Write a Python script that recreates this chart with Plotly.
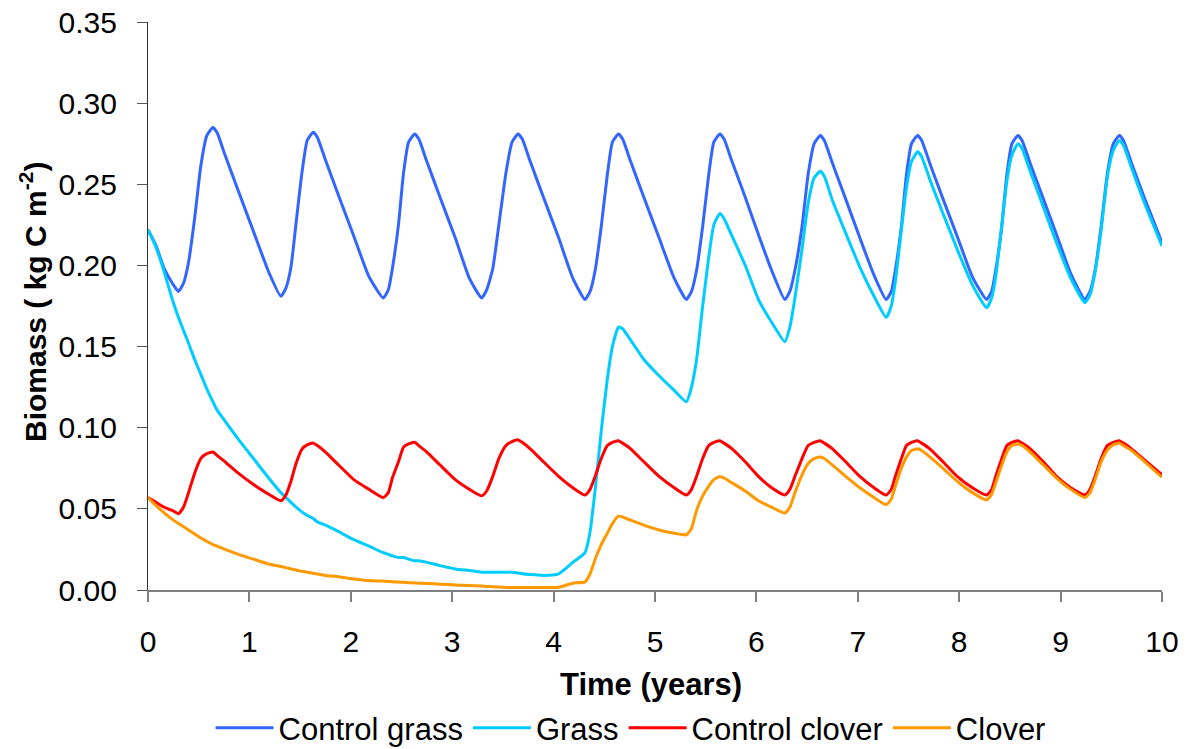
import plotly.graph_objects as go

# Time (years)
time = [
    0.00, 0.08, 0.16, 0.24, 0.30, 0.35, 0.40, 0.46, 0.52, 0.58, 0.64, 0.68, 0.76, 0.89, 1.04, 1.19,
    1.31, 1.36, 1.41, 1.46, 1.52, 1.57, 1.63, 1.67, 1.75, 1.88, 2.03, 2.18,
    2.32, 2.37, 2.41, 2.47, 2.52, 2.57, 2.63, 2.67, 2.75, 2.88, 3.03, 3.17,
    3.29, 3.34, 3.40, 3.46, 3.53, 3.59, 3.65, 3.69, 3.77, 3.90, 4.05, 4.19,
    4.31, 4.36, 4.41, 4.47, 4.53, 4.58, 4.64, 4.68, 4.76, 4.89, 5.04, 5.19,
    5.31, 5.36, 5.41, 5.47, 5.53, 5.58, 5.64, 5.68, 5.76, 5.89, 6.02, 6.15,
    6.28, 6.33, 6.38, 6.45, 6.51, 6.57, 6.63, 6.67, 6.75, 6.88, 7.02, 7.16,
    7.28, 7.33, 7.37, 7.43, 7.48, 7.53, 7.59, 7.63, 7.71, 7.84, 7.98, 8.13,
    8.27, 8.32, 8.36, 8.42, 8.47, 8.52, 8.58, 8.62, 8.70, 8.83, 8.96, 9.10,
    9.24, 9.29, 9.34, 9.40, 9.46, 9.52, 9.58, 9.62, 9.70, 9.83, 10.00,
]

control_grass = [
    0.222, 0.212, 0.198, 0.189, 0.184, 0.189, 0.202, 0.229, 0.261, 0.280, 0.285, 0.282, 0.268, 0.246, 0.221, 0.196,
    0.181, 0.186, 0.199, 0.226, 0.258, 0.277, 0.282, 0.279, 0.265, 0.243, 0.218, 0.193,
    0.180, 0.185, 0.198, 0.225, 0.257, 0.276, 0.281, 0.278, 0.264, 0.242, 0.217, 0.192,
    0.180, 0.185, 0.198, 0.225, 0.257, 0.276, 0.281, 0.278, 0.264, 0.242, 0.217, 0.192,
    0.179, 0.184, 0.197, 0.224, 0.256, 0.276, 0.281, 0.278, 0.264, 0.242, 0.217, 0.192,
    0.179, 0.184, 0.197, 0.224, 0.256, 0.276, 0.281, 0.278, 0.264, 0.242, 0.219, 0.197,
    0.179, 0.184, 0.197, 0.224, 0.256, 0.275, 0.280, 0.277, 0.263, 0.241, 0.217, 0.194,
    0.179, 0.184, 0.197, 0.224, 0.256, 0.275, 0.280, 0.277, 0.263, 0.241, 0.218, 0.193,
    0.179, 0.184, 0.197, 0.224, 0.256, 0.275, 0.280, 0.277, 0.263, 0.241, 0.219, 0.195,
    0.179, 0.184, 0.197, 0.224, 0.256, 0.275, 0.280, 0.277, 0.263, 0.241, 0.214,
]

grass = [
    0.222, 0.211, 0.196, 0.179, 0.168, 0.160, 0.152, 0.142, 0.133, 0.124, 0.116, 0.111, 0.104, 0.093, 0.081, 0.069,
    0.060, 0.057, 0.054, 0.051, 0.048, 0.046, 0.044, 0.042, 0.040, 0.036, 0.031, 0.027,
    0.023, 0.022, 0.021, 0.020, 0.020, 0.019, 0.018, 0.018, 0.017, 0.015, 0.013, 0.012,
    0.011, 0.011, 0.011, 0.011, 0.011, 0.011, 0.0105, 0.010, 0.0095, 0.009, 0.010, 0.017,
    0.023, 0.036, 0.062, 0.098, 0.130, 0.150, 0.162, 0.161, 0.154, 0.142, 0.132, 0.123,
    0.116, 0.125, 0.142, 0.175, 0.205, 0.225, 0.232, 0.229, 0.218, 0.200, 0.179, 0.165,
    0.153, 0.162, 0.180, 0.210, 0.238, 0.254, 0.258, 0.255, 0.240, 0.220, 0.199, 0.181,
    0.168, 0.175, 0.190, 0.222, 0.248, 0.264, 0.270, 0.267, 0.253, 0.232, 0.210, 0.188,
    0.174, 0.180, 0.193, 0.225, 0.252, 0.268, 0.275, 0.272, 0.258, 0.236, 0.214, 0.192,
    0.177, 0.182, 0.196, 0.222, 0.254, 0.271, 0.277, 0.274, 0.260, 0.238, 0.212,
]

control_clover = [
    0.057, 0.054, 0.051, 0.049, 0.047, 0.051, 0.060, 0.072, 0.081, 0.084, 0.085, 0.083, 0.079, 0.072, 0.065, 0.059,
    0.055, 0.0586, 0.067, 0.078, 0.087, 0.0894, 0.0905, 0.089, 0.085, 0.077, 0.068, 0.062,
    0.057, 0.060, 0.069, 0.079, 0.088, 0.090, 0.091, 0.089, 0.085, 0.077, 0.068, 0.062,
    0.058, 0.061, 0.070, 0.081, 0.089, 0.0915, 0.0925, 0.091, 0.087, 0.079, 0.070, 0.063,
    0.0585, 0.062, 0.070, 0.081, 0.089, 0.091, 0.092, 0.0905, 0.087, 0.079, 0.070, 0.063,
    0.0585, 0.062, 0.070, 0.081, 0.089, 0.091, 0.092, 0.0905, 0.087, 0.079, 0.070, 0.063,
    0.0585, 0.062, 0.070, 0.081, 0.089, 0.091, 0.092, 0.0905, 0.087, 0.079, 0.070, 0.063,
    0.0585, 0.062, 0.070, 0.081, 0.089, 0.091, 0.092, 0.0905, 0.087, 0.079, 0.070, 0.063,
    0.0585, 0.062, 0.070, 0.081, 0.089, 0.091, 0.092, 0.0905, 0.087, 0.079, 0.070, 0.063,
    0.0585, 0.062, 0.070, 0.081, 0.089, 0.091, 0.092, 0.0905, 0.087, 0.080, 0.071,
]

clover = [
    0.057, 0.052, 0.0475, 0.0435, 0.041, 0.039, 0.037, 0.0345, 0.032, 0.030, 0.028, 0.027, 0.025, 0.022, 0.019, 0.016,
    0.0145, 0.0138, 0.013, 0.0123, 0.0115, 0.011, 0.0103, 0.0098, 0.009, 0.0082, 0.0068, 0.0058,
    0.0055, 0.0053, 0.0051, 0.0049, 0.0047, 0.0045, 0.0043, 0.0042, 0.0040, 0.0036, 0.0031, 0.0027,
    0.0024, 0.0022, 0.0020, 0.0018, 0.0016, 0.0015, 0.0015, 0.0015, 0.0015, 0.0015, 0.0017, 0.0042,
    0.005, 0.010, 0.019, 0.028, 0.035, 0.041, 0.0455, 0.045, 0.043, 0.040, 0.037, 0.035,
    0.034, 0.038, 0.049, 0.058, 0.064, 0.068, 0.070, 0.069, 0.066, 0.061, 0.055, 0.051,
    0.0474, 0.051, 0.060, 0.071, 0.078, 0.081, 0.082, 0.081, 0.077, 0.070, 0.063, 0.057,
    0.0525, 0.056, 0.064, 0.075, 0.082, 0.086, 0.087, 0.086, 0.082, 0.075, 0.067, 0.060,
    0.0555, 0.059, 0.066, 0.077, 0.085, 0.089, 0.090, 0.089, 0.085, 0.077, 0.069, 0.062,
    0.057, 0.060, 0.068, 0.079, 0.086, 0.0895, 0.0905, 0.089, 0.086, 0.079, 0.0695,
]

series_names = ["Control grass", "Grass", "Control clover", "Clover"]
series_values = [control_grass, grass, control_clover, clover]
series_colors = ["#3366FF", "#00CCFF", "#FF0000", "#FF9900"]

y_ticks = [0.00, 0.05, 0.10, 0.15, 0.20, 0.25, 0.30, 0.35]
x_ticks = list(range(0, 11))

FONT = "Liberation Sans, Arial, sans-serif"

fig = go.Figure()
for name, vals, col in zip(series_names, series_values, series_colors):
    fig.add_trace(go.Scatter(
        x=time, y=vals, name=name, mode="lines",
        line=dict(color=col, width=3, shape="spline", smoothing=0.5),
    ))

fig.update_layout(
    width=1192, height=749,
    margin=dict(l=148, r=30, t=22, b=159, autoexpand=False),
    paper_bgcolor="white", plot_bgcolor="white",
    font=dict(family=FONT, size=30, color="black"),
    showlegend=True,
    legend=dict(
        orientation="h", xref="container", yref="container",
        x=0.529, xanchor="center", y=0.028, yanchor="middle",
        font=dict(family=FONT, size=31, color="black"),
        itemwidth=58, tracegroupgap=0,
        bgcolor="rgba(0,0,0,0)",
    ),
    xaxis=dict(
        range=[0, 10], tickvals=x_ticks, ticktext=[str(v) for v in x_ticks],
        showgrid=False, zeroline=False,
        showline=True, linecolor="#808080", linewidth=1.5,
        ticks="outside", ticklen=10, tickcolor="#808080", tickwidth=1.5,
        ticklabelstandoff=14,
        tickfont=dict(family=FONT, size=30, color="black"),
    ),
    yaxis=dict(
        range=[0, 0.35], tickvals=y_ticks, ticktext=[f"{v:.2f}" for v in y_ticks],
        showgrid=False, zeroline=False,
        showline=True, linecolor="#333333", linewidth=1.2,
        ticks="outside", ticklen=10, tickcolor="#555555", tickwidth=1.2,
        ticklabelstandoff=14,
        tickfont=dict(family=FONT, size=30, color="black"),
    ),
    annotations=[
        dict(text="<b>Time (years)</b>", xref="paper", yref="paper",
             x=0.4965, y=-0.1655, xanchor="center", yanchor="middle",
             showarrow=False, font=dict(family=FONT, size=31, color="black")),
        dict(text="<b>Biomass ( kg C m<sup>-2</sup>)</b>", xref="paper", yref="paper",
             x=-0.1134, y=0.507, xanchor="center", yanchor="middle", textangle=-90,
             showarrow=False, font=dict(family=FONT, size=30, color="black")),
    ],
)

fig.write_html(
    "out.html",
    config={"displayModeBar": False},
    post_script="document.body.style.margin='0px';",
)
